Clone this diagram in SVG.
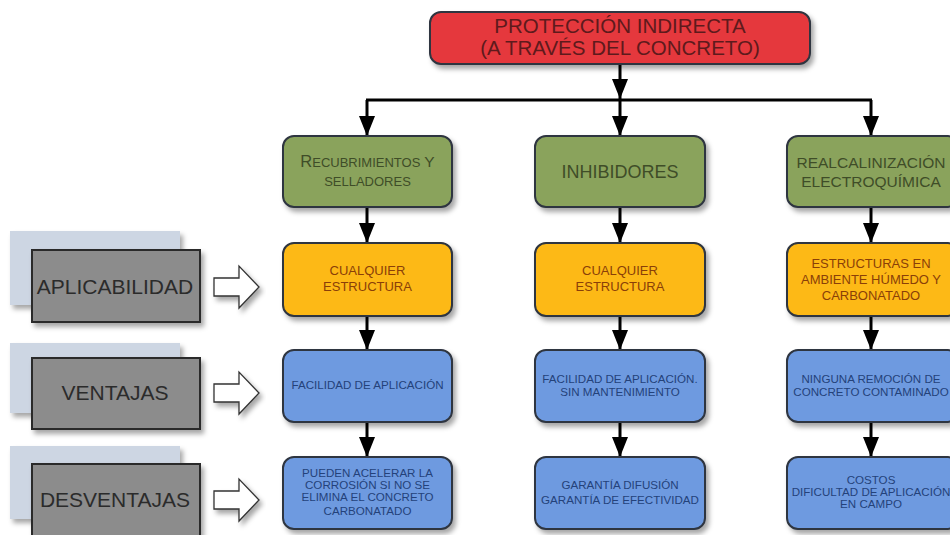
<svg xmlns="http://www.w3.org/2000/svg" width="950" height="535" viewBox="0 0 950 535">
  <defs>
    <filter id="shadow" x="-10%" y="-10%" width="125%" height="135%">
      <feDropShadow dx="3" dy="4" stdDeviation="2.5" flood-color="#000" flood-opacity="0.35"/>
    </filter>
    <marker id="arrow" viewBox="0 0 20 16" markerWidth="20" markerHeight="16" refX="20" refY="8" orient="auto" markerUnits="userSpaceOnUse">
      <path d="M0,0 L20,8 L0,16 Z" fill="#000"/>
    </marker>
    <path id="blockArrow" d="M0,-9 L25,-9 L25,-21 L45,0 L25,21 L25,9 L0,9 Z"/>
  </defs>
  <style>
    text { font-family: "Liberation Sans", Arial, sans-serif; text-anchor: middle; }
    .box { stroke: #2f3540; stroke-width: 2; filter: url(#shadow); }
    .red { fill: #e5383e; }
    .green { fill: #8aa35c; }
    .yellow { fill: #fdb913; }
    .blue { fill: #6e9ae0; }
    .tRed { fill: #5e1a1c; font-size: 20.5px; }
    .tGreen { fill: #3f4d28; }
    .tYellow { fill: #8a3f08; font-size: 13px; }
    .tBlue { fill: #24427a; font-size: 11.6px; }
    .back { fill: #cdd6e3; filter: url(#shadow); }
    .label { fill: #8c8c8c; stroke: #2b2b2b; stroke-width: 2; filter: url(#shadow); }
    .tLabel { fill: #2b2b2b; font-size: 21px; }
    .block { fill: #ffffff; stroke: #333; stroke-width: 1.3; filter: url(#shadow); }
    .conn { stroke: #000; stroke-width: 3; fill: none; }
  </style>

  <!-- connectors -->
  <g id="connectors">
    <line class="conn" x1="620" y1="64" x2="620" y2="99" marker-end="url(#arrow)"/>
    <line class="conn" x1="366" y1="100" x2="872" y2="100"/>
    <line class="conn" x1="367" y1="100" x2="367" y2="136" marker-end="url(#arrow)"/>
    <line class="conn" x1="620" y1="100" x2="620" y2="136" marker-end="url(#arrow)"/>
    <line class="conn" x1="871" y1="100" x2="871" y2="136" marker-end="url(#arrow)"/>

    <line class="conn" x1="367" y1="207" x2="367" y2="243" marker-end="url(#arrow)"/>
    <line class="conn" x1="620" y1="207" x2="620" y2="243" marker-end="url(#arrow)"/>
    <line class="conn" x1="871" y1="207" x2="871" y2="243" marker-end="url(#arrow)"/>

    <line class="conn" x1="367" y1="316" x2="367" y2="350" marker-end="url(#arrow)"/>
    <line class="conn" x1="620" y1="316" x2="620" y2="350" marker-end="url(#arrow)"/>
    <line class="conn" x1="871" y1="316" x2="871" y2="350" marker-end="url(#arrow)"/>

    <line class="conn" x1="367" y1="422" x2="367" y2="457" marker-end="url(#arrow)"/>
    <line class="conn" x1="620" y1="422" x2="620" y2="457" marker-end="url(#arrow)"/>
    <line class="conn" x1="871" y1="422" x2="871" y2="457" marker-end="url(#arrow)"/>
  </g>

  <!-- root -->
  <g id="root">
    <rect class="box red" x="430" y="12" width="380" height="52" rx="11"/>
    <text class="tRed" x="620" y="33">PROTECCIÓN INDIRECTA</text>
    <text class="tRed" x="620" y="55">(A TRAVÉS DEL CONCRETO)</text>
  </g>

  <!-- methods -->
  <g id="recubrimientos">
    <rect class="box green" x="283" y="136" width="169" height="71" rx="11"/>
    <text class="tGreen" x="367.5" y="167"><tspan font-size="16.5">R</tspan><tspan font-size="13">ECUBRIMIENTOS</tspan><tspan font-size="15.5"> Y</tspan></text>
    <text class="tGreen" x="367.5" y="186" font-size="13">SELLADORES</text>
  </g>
  <g id="inhibidores">
    <rect class="box green" x="535" y="136" width="170" height="71" rx="11"/>
    <text class="tGreen" x="620" y="178" font-size="18">INHIBIDORES</text>
  </g>
  <g id="realcalinizacion">
    <rect class="box green" x="787" y="136" width="172" height="71" rx="11"/>
    <text class="tGreen" x="871" y="168" font-size="15.5">REALCALINIZACIÓN</text>
    <text class="tGreen" x="871" y="187" font-size="15.5">ELECTROQUÍMICA</text>
  </g>

  <!-- applicability -->
  <g id="aplic-1">
    <rect class="box yellow" x="283" y="243" width="169" height="73" rx="11"/>
    <text class="tYellow" x="367.5" y="275">CUALQUIER</text>
    <text class="tYellow" x="367.5" y="291">ESTRUCTURA</text>
  </g>
  <g id="aplic-2">
    <rect class="box yellow" x="535" y="243" width="170" height="73" rx="11"/>
    <text class="tYellow" x="620" y="275">CUALQUIER</text>
    <text class="tYellow" x="620" y="291">ESTRUCTURA</text>
  </g>
  <g id="aplic-3">
    <rect class="box yellow" x="787" y="243" width="172" height="73" rx="11"/>
    <text class="tYellow" x="871" y="268" font-size="14.5">ESTRUCTURAS EN</text>
    <text class="tYellow" x="871" y="284" font-size="14.5">AMBIENTE HÚMEDO Y</text>
    <text class="tYellow" x="871" y="300" font-size="14.5">CARBONATADO</text>
  </g>

  <!-- advantages -->
  <g id="ventaja-1">
    <rect class="box blue" x="283" y="350" width="169" height="72" rx="11"/>
    <text class="tBlue" x="367.5" y="389">FACILIDAD DE APLICACIÓN</text>
  </g>
  <g id="ventaja-2">
    <rect class="box blue" x="535" y="350" width="170" height="72" rx="11"/>
    <text class="tBlue" x="620" y="383">FACILIDAD DE APLICACIÓN.</text>
    <text class="tBlue" x="620" y="396">SIN MANTENIMIENTO</text>
  </g>
  <g id="ventaja-3">
    <rect class="box blue" x="787" y="350" width="172" height="72" rx="11"/>
    <text class="tBlue" x="871" y="383">NINGUNA REMOCIÓN DE</text>
    <text class="tBlue" x="871" y="396">CONCRETO CONTAMINADO</text>
  </g>

  <!-- disadvantages -->
  <g id="desventaja-1">
    <rect class="box blue" x="283" y="457" width="169" height="72" rx="11"/>
    <text class="tBlue" x="367.5" y="477" font-size="12">PUEDEN ACELERAR LA</text>
    <text class="tBlue" x="367.5" y="489" font-size="12">CORROSIÓN SI NO SE</text>
    <text class="tBlue" x="367.5" y="501" font-size="12">ELIMINA EL CONCRETO</text>
    <text class="tBlue" x="367.5" y="515" font-size="12">CARBONATADO</text>
  </g>
  <g id="desventaja-2">
    <rect class="box blue" x="535" y="457" width="170" height="72" rx="11"/>
    <text class="tBlue" x="620" y="489">GARANTÍA DIFUSIÓN</text>
    <text class="tBlue" x="620" y="504">GARANTÍA DE EFECTIVIDAD</text>
  </g>
  <g id="desventaja-3">
    <rect class="box blue" x="787" y="457" width="172" height="72" rx="11"/>
    <text class="tBlue" x="871" y="484">COSTOS</text>
    <text class="tBlue" x="871" y="496">DIFICULTAD DE APLICACIÓN</text>
    <text class="tBlue" x="871" y="508">EN CAMPO</text>
  </g>

  <!-- row labels -->
  <g id="label-aplicabilidad">
    <rect class="back" x="10" y="231" width="170" height="74"/>
    <rect class="label" x="32" y="250" width="168" height="72"/>
    <text class="tLabel" x="115" y="294">APLICABILIDAD</text>
    <use href="#blockArrow" class="block" x="214" y="287"/>
  </g>
  <g id="label-ventajas">
    <rect class="back" x="10" y="343" width="170" height="70"/>
    <rect class="label" x="32" y="358" width="168" height="71"/>
    <text class="tLabel" x="115" y="400">VENTAJAS</text>
    <use href="#blockArrow" class="block" x="214" y="393"/>
  </g>
  <g id="label-desventajas">
    <rect class="back" x="10" y="446" width="170" height="73"/>
    <rect class="label" x="32" y="464" width="168" height="80"/>
    <text class="tLabel" x="115" y="507">DESVENTAJAS</text>
    <use href="#blockArrow" class="block" x="214" y="500"/>
  </g>
</svg>
